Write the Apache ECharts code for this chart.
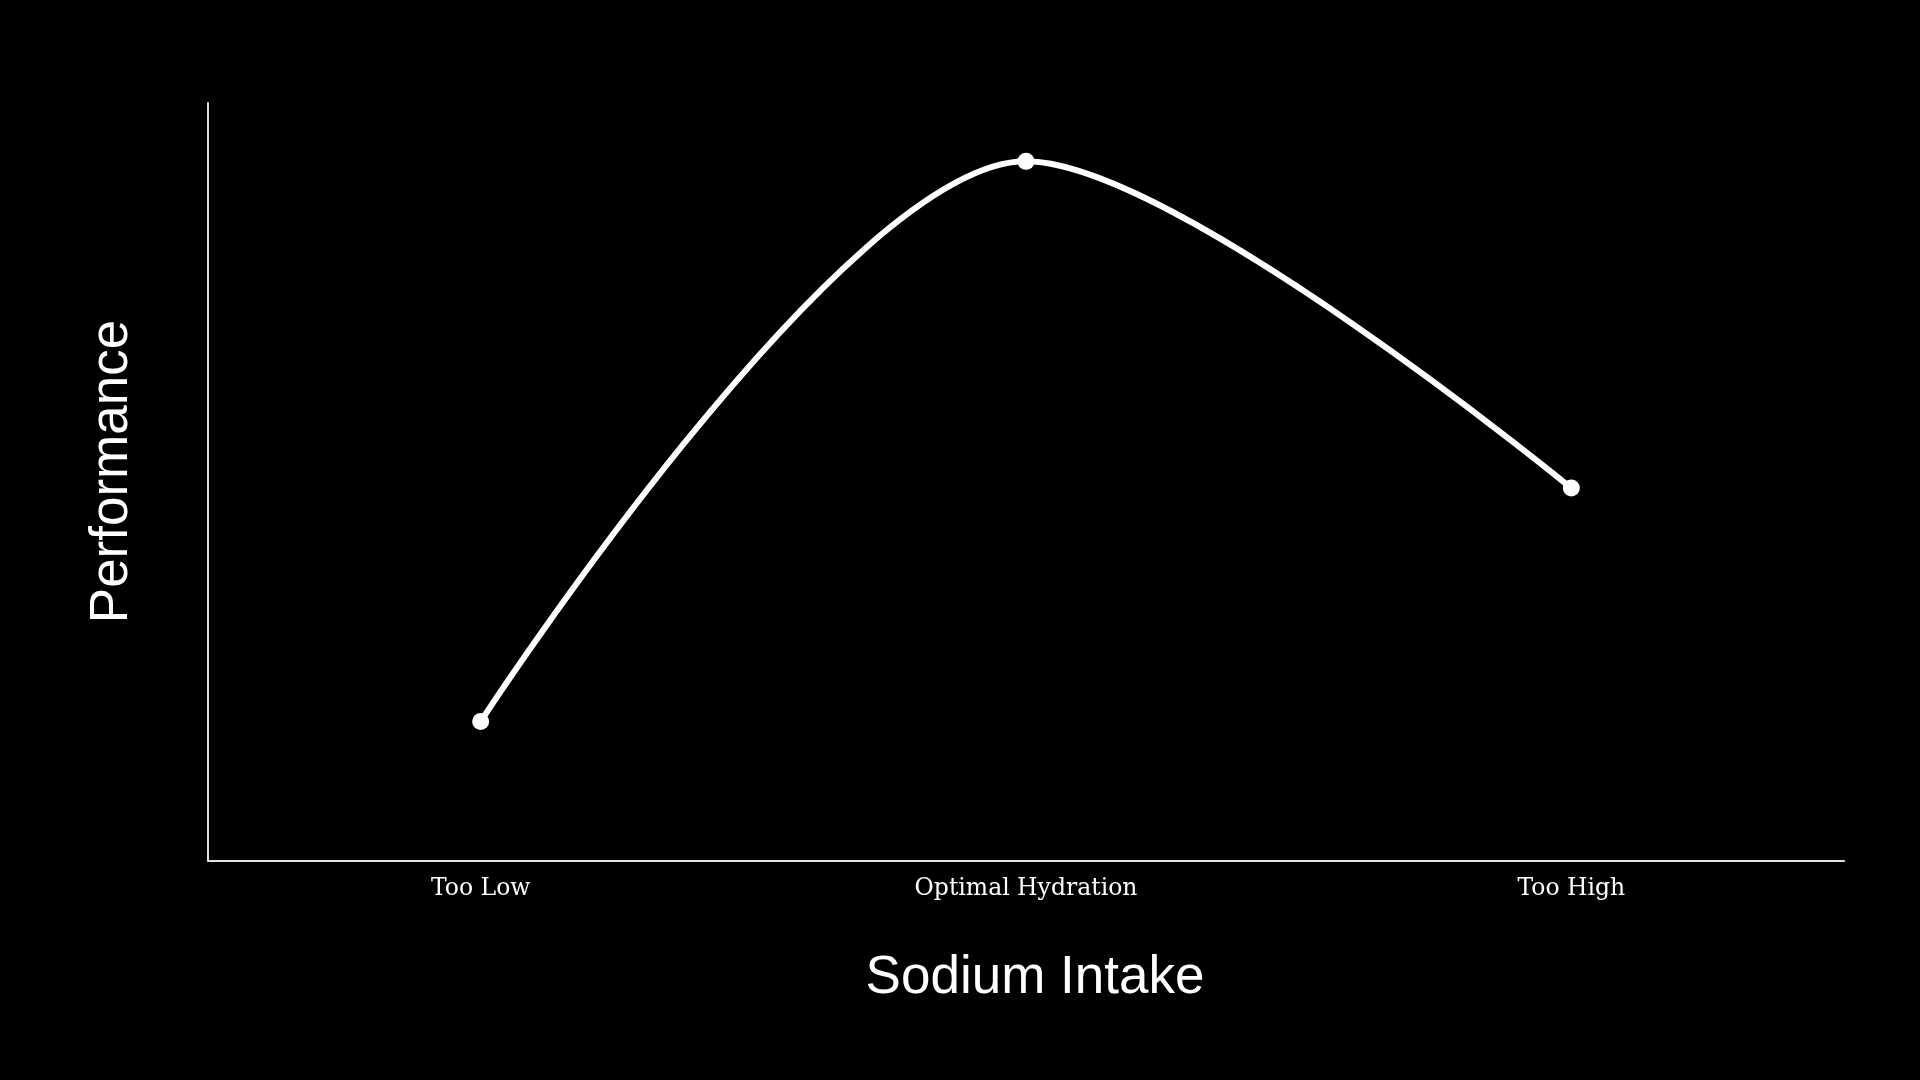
<!DOCTYPE html>
<html>
<head>
<meta charset="utf-8">
<script src="https://cdn.jsdelivr.net/npm/echarts@6/dist/echarts.min.js"></script>
<style>
html,body{margin:0;padding:0;background:#000;}
#chart{width:1920px;height:1080px;}
</style>
</head>
<body>
<div id="chart"></div>
<script>
const categories = ['Too Low', 'Optimal Hydration', 'Too High'];
const performance = [18.4, 92.3, 49.2];
const xAxisName = 'Sodium Intake';
const yAxisName = 'Performance';

const chart = echarts.init(document.getElementById('chart'));
chart.setOption({
  backgroundColor: '#000',
  animation: false,
  grid: { left: 208, right: 76, top: 103, bottom: 219 },
  xAxis: {
    type: 'category',
    data: categories,
    boundaryGap: true,
    name: xAxisName,
    nameLocation: 'middle',
    nameGap: 91,
    nameTextStyle: { color: '#fff', fontSize: 53, fontFamily: 'Liberation Sans', padding: [0, 0, 0, 18] },
    axisLine: { lineStyle: { color: '#e0e0e0', width: 2 } },
    axisTick: { show: false },
    axisLabel: { color: '#fff', fontSize: 23.5, fontFamily: 'DejaVu Serif', margin: 16 },
    splitLine: { show: false }
  },
  yAxis: {
    type: 'value',
    min: 0,
    max: 100,
    name: yAxisName,
    nameLocation: 'middle',
    nameGap: 69,
    nameRotate: 90,
    nameTextStyle: { color: '#fff', fontSize: 53, fontFamily: 'Liberation Sans', padding: [0, 0, 0, 21] },
    axisLine: { show: true, lineStyle: { color: '#e0e0e0', width: 2 } },
    axisTick: { show: false },
    axisLabel: { show: false },
    splitLine: { show: false }
  },
  series: [{
    type: 'line',
    data: performance,
    smooth: 0.3,
    symbol: 'circle',
    symbolSize: 17,
    lineStyle: { color: '#fff', width: 6 },
    itemStyle: { color: '#fff' }
  }]
});
</script>
</body>
</html>
